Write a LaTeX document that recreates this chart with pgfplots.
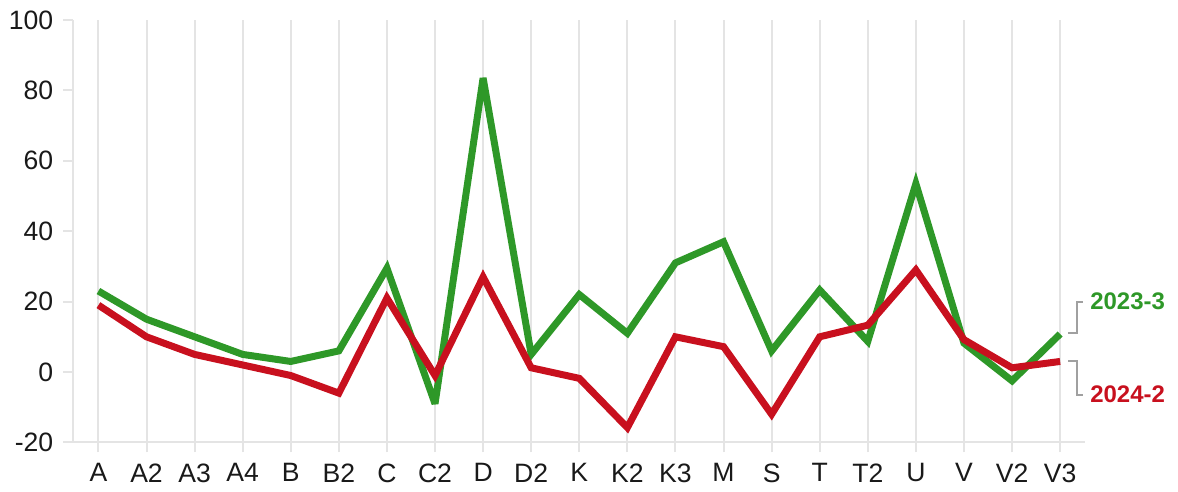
\documentclass[border=0pt]{standalone}
\usepackage{pgfplots}
\pgfplotsset{compat=1.18}
\usepackage{fontspec}
\setmainfont{Liberation Sans}
\definecolor{grn}{RGB}{46,152,40}
\definecolor{rd}{RGB}{200,16,30}
\definecolor{gridc}{RGB}{228,228,228}
\definecolor{brk}{RGB}{160,160,160}

\begin{document}
\fontsize{13.3}{16}\selectfont
\begin{tikzpicture}
\begin{axis}[
    scale only axis,
    width=506.5pt, height=211.5pt,
    xmin=-0.52, xmax=20.52,
    ymin=-20, ymax=100,
    xtick={0,...,20},
    xticklabels={A,A2,A3,A4,B,B2,C,C2,D,D2,K,K2,K3,M,S,T,T2,U,V,V2,V3},
    ytick={-20,0,20,40,60,80,100},
    axis x line=bottom, axis y line=left,
    axis line style={gridc, line width=1pt, -},
    xmajorgrids,
    grid style={gridc, line width=1pt},
    tick align=outside,
    major tick length=5pt,
    tick style={gridc, line width=1pt},
    tick label style={font=\fontsize{13.3}{16}\selectfont, text=black!90},
    /pgf/number format/assume math mode=true,
    yticklabel style={xshift=-0.5pt},
    xticklabel style={yshift=-1pt},
    clip=false,
]
\addplot[grn, line width=3.5pt, line join=miter, miter limit=4] coordinates {
    (0,23) (1,15) (2,10) (3,5) (4,3) (5,6) (6,29.5) (7,-9) (8,83.5) (9,5)
    (10,22) (11,11) (12,31) (13,37) (14,6) (15,23.3) (16,8.7) (17,53.5)
    (18,8.2) (19,-2.5) (20,10.8)
};
\addplot[rd, line width=3.5pt, line join=miter, miter limit=4] coordinates {
    (0,19) (1,10) (2,5) (3,2) (4,-1) (5,-6) (6,21) (7,-1) (8,27) (9,1.2)
    (10,-1.8) (11,-15.8) (12,10) (13,7.2) (14,-12) (15,10) (16,13.3) (17,29)
    (18,9.2) (19,1.2) (20,3)
};
\draw[brk, line width=1pt] (axis cs:20.17,11.2) -- (axis cs:20.35,11.2)
    -- (axis cs:20.35,20) -- (axis cs:20.48,20);
\draw[brk, line width=1pt] (axis cs:20.17,3) -- (axis cs:20.35,3)
    -- (axis cs:20.35,-6.4) -- (axis cs:20.48,-6.4);
\node[anchor=west, inner sep=0pt, text=grn, font=\fontsize{12}{14}\selectfont\bfseries]
    at (axis cs:20.62,20) {2023-3};
\node[anchor=west, inner sep=0pt, text=rd, font=\fontsize{12}{14}\selectfont\bfseries]
    at (axis cs:20.62,-6.4) {2024-2};
\end{axis}
\useasboundingbox (-36pt,-21pt) rectangle (553pt,221.5pt);
\end{tikzpicture}
\end{document}
